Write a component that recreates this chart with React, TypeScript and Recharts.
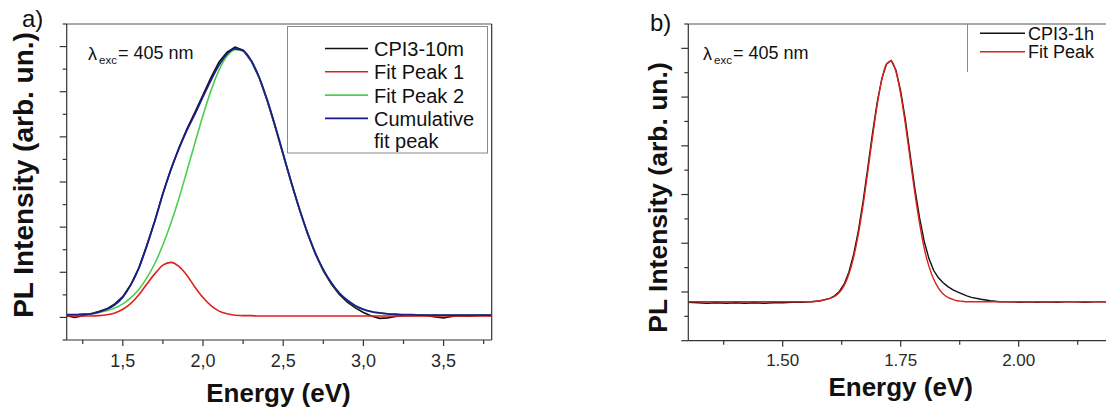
import { LineChart, Line, XAxis, YAxis, ReferenceLine } from "recharts";

const FONT = '"Liberation Sans", Arial, Helvetica, sans-serif';
const AXIS = "#333";
const TICK_TEXT = "#2a2a2a";

// panel a) CPI3-10m with two-peak fit
const energyA = [
  1.15, 1.2, 1.25, 1.3, 1.35, 1.4, 1.45, 1.5, 1.55, 1.6,
  1.65, 1.7, 1.75, 1.8, 1.85, 1.9, 1.95, 2.0, 2.05, 2.1,
  2.15, 2.2, 2.25, 2.3, 2.35, 2.4, 2.45, 2.5, 2.55, 2.6,
  2.65, 2.7, 2.75, 2.8, 2.85, 2.9, 2.95, 3.0, 3.05, 3.1,
  3.15, 3.2, 3.25, 3.3, 3.35, 3.4, 3.45, 3.5, 3.55, 3.6,
  3.65, 3.7, 3.75, 3.8,
];
const cpi10m = [
  0.04, 0.0, 0.04, 0.08, 0.13, 0.19, 0.3, 0.46, 0.73, 1.1,
  1.6, 2.15, 2.75, 3.28, 3.76, 4.18, 4.55, 4.93, 5.32, 5.66,
  5.88, 5.99, 5.92, 5.68, 5.31, 4.8, 4.22, 3.6, 2.98, 2.4,
  1.87, 1.41, 1.03, 0.74, 0.51, 0.34, 0.21, 0.11, 0.03, -0.02,
  -0.01, 0.02, 0.04, 0.04, 0.05, 0.04, 0.01, -0.01, 0.02, 0.04,
  0.03, 0.04, 0.05, 0.04,
];
const fitPeak1 = [
  0.03, 0.03, 0.03, 0.03, 0.04, 0.06, 0.1, 0.18, 0.31, 0.5,
  0.74, 0.97, 1.16, 1.22, 1.13, 0.93, 0.67, 0.44, 0.26, 0.14,
  0.08, 0.05, 0.04, 0.04, 0.03, 0.03, 0.03, 0.03, 0.03, 0.03,
  0.03, 0.03, 0.03, 0.03, 0.03, 0.03, 0.03, 0.03, 0.03, 0.03,
  0.03, 0.03, 0.03, 0.03, 0.03, 0.03, 0.03, 0.03, 0.03, 0.03,
  0.03, 0.03, 0.03, 0.03,
];
const fitPeak2 = [
  0.06, 0.06, 0.07, 0.08, 0.11, 0.15, 0.21, 0.3, 0.44, 0.62,
  0.88, 1.2, 1.61, 2.09, 2.64, 3.25, 3.87, 4.48, 5.03, 5.48,
  5.79, 5.93, 5.9, 5.68, 5.32, 4.82, 4.24, 3.62, 3.0, 2.42,
  1.89, 1.43, 1.06, 0.77, 0.54, 0.38, 0.26, 0.18, 0.13, 0.1,
  0.08, 0.07, 0.06, 0.05, 0.05, 0.05, 0.05, 0.05, 0.05, 0.05,
  0.05, 0.05, 0.05, 0.05,
];
const cumulativeFit = [
  0.06, 0.06, 0.07, 0.08, 0.12, 0.18, 0.28, 0.45, 0.72, 1.09,
  1.59, 2.14, 2.74, 3.28, 3.74, 4.15, 4.51, 4.89, 5.26, 5.59,
  5.84, 5.95, 5.91, 5.69, 5.32, 4.82, 4.24, 3.62, 3.0, 2.42,
  1.89, 1.43, 1.06, 0.77, 0.54, 0.38, 0.26, 0.18, 0.13, 0.1,
  0.08, 0.07, 0.06, 0.06, 0.05, 0.05, 0.05, 0.05, 0.05, 0.05,
  0.05, 0.05, 0.05, 0.05,
];
const xTicksA = [1.25, 1.5, 1.75, 2.0, 2.25, 2.5, 2.75, 3.0, 3.25, 3.5, 3.75];
const yTicksA = [-0.5, 0, 0.5, 1, 1.5, 2, 2.5, 3, 3.5, 4, 4.5, 5, 5.5, 6, 6.5];

// panel b) CPI3-1h with single peak fit
const energyB = [
  1.3, 1.32, 1.34, 1.36, 1.38, 1.4, 1.42, 1.44, 1.46, 1.48,
  1.5, 1.52, 1.54, 1.56, 1.58,
  1.6, 1.61, 1.62, 1.63, 1.64, 1.65, 1.66, 1.67, 1.68, 1.69,
  1.7, 1.71, 1.72, 1.73, 1.74, 1.75, 1.76, 1.77, 1.78, 1.79,
  1.8, 1.81, 1.82, 1.83, 1.84, 1.85, 1.86, 1.87, 1.88, 1.89,
  1.9,
  1.92, 1.94, 1.96, 1.98, 2.0, 2.02, 2.04, 2.06, 2.08, 2.1,
  2.12, 2.14, 2.16, 2.18, 2.2, 2.22, 2.24, 2.26, 2.28, 2.3,
];
const cpi1h = [
  0.79, 0.78, 0.77, 0.78, 0.77, 0.78, 0.77, 0.78, 0.77, 0.78,
  0.78, 0.79, 0.79, 0.8, 0.82,
  0.87, 0.92, 1.01, 1.16, 1.4, 1.76, 2.24, 2.84, 3.53, 4.24,
  4.88, 5.38, 5.68, 5.75, 5.55, 5.12, 4.52, 3.82, 3.12, 2.52,
  2.03, 1.68, 1.44, 1.29, 1.19, 1.11, 1.05, 1.0, 0.96, 0.92,
  0.89,
  0.85, 0.82, 0.8, 0.8, 0.79, 0.8, 0.79, 0.8, 0.79, 0.8,
  0.8, 0.79, 0.8, 0.8, 0.79, 0.8, 0.8, 0.79, 0.8, 0.8,
];
const fitPeakB = [
  0.8, 0.8, 0.8, 0.8, 0.8, 0.8, 0.8, 0.8, 0.8, 0.8,
  0.8, 0.8, 0.8, 0.8, 0.82,
  0.87, 0.91, 0.99, 1.13, 1.36, 1.7, 2.17, 2.76, 3.45, 4.16,
  4.83, 5.36, 5.68, 5.74, 5.52, 5.06, 4.44, 3.73, 3.03, 2.41,
  1.89, 1.52, 1.26, 1.08, 0.96, 0.89, 0.85, 0.82, 0.81, 0.8,
  0.8,
  0.8, 0.8, 0.8, 0.8, 0.8, 0.8, 0.8, 0.8, 0.8, 0.8,
  0.8, 0.8, 0.8, 0.8, 0.8, 0.8, 0.8, 0.8, 0.8, 0.8,
];
const xTicksB = [1.375, 1.5, 1.625, 1.75, 1.875, 2.0, 2.125];
const yTicksB = [0, 0.5, 1, 1.5, 2, 2.5, 3, 3.5, 4, 4.5, 5, 5.5, 6, 6.5];

const seriesA = [
  { key: "data", name: "CPI3-10m", color: "#111111", width: 1.6, curve: "linear" },
  { key: "peak2", name: "Fit Peak 2", color: "#4ccf4c", width: 1.6, curve: "monotone" },
  { key: "peak1", name: "Fit Peak 1", color: "#e0201c", width: 1.6, curve: "monotone" },
  { key: "cumulative", name: "Cumulative\nfit peak", color: "#1c1c8e", width: 1.8, curve: "monotone" },
];
const legendOrderA = ["data", "peak1", "peak2", "cumulative"];

const seriesB = [
  { key: "data", name: "CPI3-1h", color: "#111111", width: 1.4, curve: "linear" },
  { key: "fit", name: "Fit Peak", color: "#e0201c", width: 1.4, curve: "monotone" },
];

const rowsA = energyA.map((e, i) => ({
  e,
  data: cpi10m[i],
  peak1: fitPeak1[i],
  peak2: fitPeak2[i],
  cumulative: cumulativeFit[i],
}));
const rowsB = energyB.map((e, i) => ({ e, data: cpi1h[i], fit: fitPeakB[i] }));

type TickProps = { x?: number; y?: number; payload?: { value: number } };

function XTick(props: TickProps & { step: number; digits: number; comma?: boolean; dy: number; fontSize: number }) {
  const { x = 0, y = 0, payload, step, digits, comma, dy, fontSize } = props;
  const v = payload ? payload.value : 0;
  const major = Math.abs(v / step - Math.round(v / step)) < 1e-6;
  let label = v.toFixed(digits);
  if (comma) label = label.replace(".", ",");
  return (
    <g>
      <line x1={x} x2={x} y1={y} y2={y + (major ? 6 : 4)} stroke={AXIS} strokeWidth={1.2} />
      {major && (
        <text x={x} y={y + dy} textAnchor="middle" fontSize={fontSize} fill={TICK_TEXT} fontFamily={FONT}>
          {label}
        </text>
      )}
    </g>
  );
}

function YTick(props: TickProps) {
  const { x = 0, y = 0, payload } = props;
  const v = payload ? payload.value : 0;
  const major = Math.abs(v - Math.round(v)) < 1e-6;
  return <line x1={x - (major ? 7 : 4)} x2={x} y1={y} y2={y} stroke={AXIS} strokeWidth={1.2} />;
}

function PanelA() {
  return (
    <LineChart width={500} height={415} data={rowsA} margin={{ top: 24, right: 8.3, bottom: 65, left: 56.7 }}>
      <XAxis
        dataKey="e"
        type="number"
        domain={[1.15, 3.8]}
        allowDataOverflow
        ticks={xTicksA}
        interval={0}
        height={10}
        tickSize={0}
        tickMargin={0}
        tickLine={false}
        axisLine={{ stroke: AXIS, strokeWidth: 1.2 }}
        tick={(p: TickProps) => <XTick {...p} step={0.5} digits={1} comma dy={26.5} fontSize={18} />}
      />
      <YAxis
        type="number"
        domain={[-0.5, 6.5]}
        allowDataOverflow
        ticks={yTicksA}
        interval={0}
        width={10}
        tickSize={0}
        tickMargin={0}
        tickLine={false}
        axisLine={{ stroke: AXIS, strokeWidth: 1.2 }}
        tick={(p: TickProps) => <YTick {...p} />}
      />
      <ReferenceLine y={6.5} stroke="#555" strokeWidth={1.2} ifOverflow="visible" />
      <ReferenceLine x={3.8} stroke={AXIS} strokeWidth={1.2} ifOverflow="visible" />
      {seriesA.map((s) => (
        <Line
          key={s.key}
          dataKey={s.key}
          name={s.name}
          type={s.curve as "linear" | "monotone"}
          stroke={s.color}
          strokeWidth={s.width}
          dot={false}
          activeDot={false}
          isAnimationActive={false}
        />
      ))}
    </LineChart>
  );
}

function PanelB() {
  return (
    <LineChart width={620} height={415} data={rowsB} margin={{ top: 24, right: 19.7, bottom: 64.3, left: 118.3 }}>
      <XAxis
        dataKey="e"
        type="number"
        domain={[1.3, 2.3]}
        allowDataOverflow
        ticks={xTicksB}
        interval={0}
        height={10}
        tickSize={0}
        tickMargin={0}
        tickLine={false}
        axisLine={{ stroke: AXIS, strokeWidth: 1.2 }}
        tick={(p: TickProps) => <XTick {...p} step={0.25} digits={2} dy={25.3} fontSize={17} />}
      />
      <YAxis
        type="number"
        domain={[0, 6.5]}
        allowDataOverflow
        ticks={yTicksB}
        interval={0}
        width={10}
        tickSize={0}
        tickMargin={0}
        tickLine={false}
        axisLine={{ stroke: AXIS, strokeWidth: 1.2 }}
        tick={(p: TickProps) => <YTick {...p} />}
      />
      <ReferenceLine y={6.5} stroke="#555" strokeWidth={1.2} ifOverflow="visible" />
      <ReferenceLine x={2.3} stroke={AXIS} strokeWidth={1.2} ifOverflow="visible" />
      {seriesB.map((s) => (
        <Line
          key={s.key}
          dataKey={s.key}
          name={s.name}
          type={s.curve as "linear" | "monotone"}
          stroke={s.color}
          strokeWidth={s.width}
          dot={false}
          activeDot={false}
          isAnimationActive={false}
        />
      ))}
    </LineChart>
  );
}

function Overlay() {
  const legendA = legendOrderA.map((k) => seriesA.find((s) => s.key === k)!);
  return (
    <svg
      width={1106}
      height={415}
      style={{ position: "absolute", left: 0, top: 0, pointerEvents: "none" }}
      fontFamily={FONT}
      fill="#111"
    >
      {/* panel a */}
      <text x={22} y={27} fontSize={24}>a)</text>
      <text transform="translate(33,175) rotate(-90)" textAnchor="middle" fontSize={28} fontWeight="bold">
        PL Intensity (arb. un.)
      </text>
      <text x={278.5} y={402} textAnchor="middle" fontSize={26} fontWeight="bold">Energy (eV)</text>
      <text x={88} y={60} fontSize={18}>λ</text>
      <text x={99} y={64} fontSize={11.5}>exc</text>
      <text x={118} y={59} fontSize={18}>= 405 nm</text>
      <rect x={287.5} y={26.5} width={200} height={126.5} fill="none" stroke="#8a8a8a" strokeWidth={1} />
      {legendA.map((s, i) => {
        const ly = 48.5 + i * 23.3;
        const lines = s.name.split("\n");
        return (
          <g key={s.key}>
            <line x1={325} x2={368} y1={ly} y2={ly} stroke={s.color} strokeWidth={1.6} />
            {lines.map((t, j) => (
              <text key={j} x={374} y={ly + 7.5 + j * 22.5} fontSize={20}>{t}</text>
            ))}
          </g>
        );
      })}

      {/* panel b */}
      <text x={650} y={31} fontSize={24}>b)</text>
      <text transform="translate(667,197.5) rotate(-90)" textAnchor="middle" fontSize={26.5} fontWeight="bold">
        PL Intensity (arb. un.)
      </text>
      <text x={900.7} y={396} textAnchor="middle" fontSize={26} fontWeight="bold">Energy (eV)</text>
      <text x={703} y={60} fontSize={18}>λ</text>
      <text x={714} y={64} fontSize={11.5}>exc</text>
      <text x={733} y={59} fontSize={18}>= 405 nm</text>
      <line x1={967.5} x2={967.5} y1={24} y2={72} stroke="#8a8a8a" strokeWidth={1} />
      {seriesB.map((s, i) => {
        const ly = 33.3 + i * 18.4;
        return (
          <g key={s.key}>
            <line x1={980} x2={1025} y1={ly} y2={ly} stroke={s.color} strokeWidth={1.5} />
            <text x={1028} y={ly + 6.5} fontSize={18}>{s.name}</text>
          </g>
        );
      })}
    </svg>
  );
}

export default function App() {
  return (
    <div
      style={{
        position: "absolute",
        left: 0,
        top: 0,
        width: 1106,
        height: 415,
        overflow: "hidden",
        background: "#fff",
        fontFamily: FONT,
      }}
    >
      <div style={{ position: "absolute", left: 0, top: 0 }}>
        <PanelA />
      </div>
      <div style={{ position: "absolute", left: 560, top: 0 }}>
        <PanelB />
      </div>
      <Overlay />
    </div>
  );
}
